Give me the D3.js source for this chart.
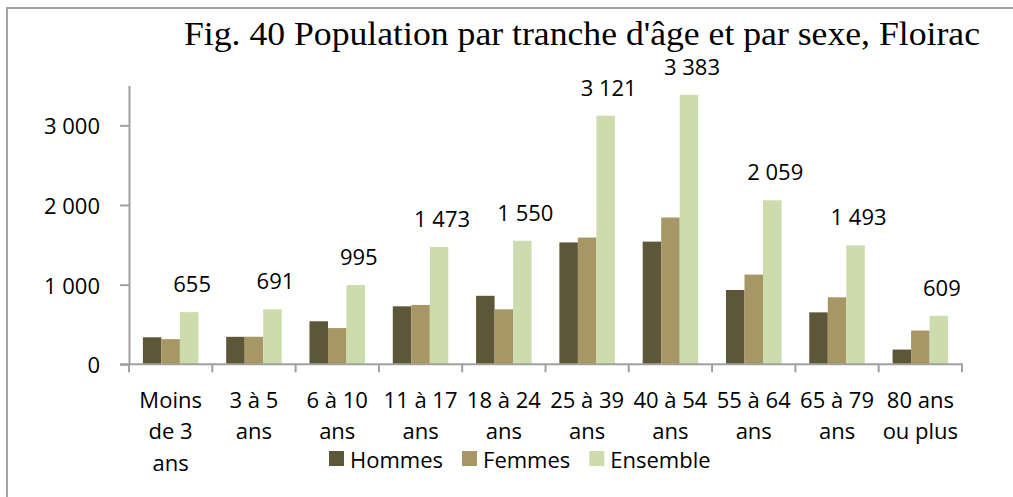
<!DOCTYPE html>
<html lang="fr">
<head>
    <meta charset="UTF-8">
    <title>Fig. 40 Population par tranche d'âge et par sexe, Floirac</title>
    <script src="https://cdn.jsdelivr.net/npm/d3@7"></script>
    <style>
        body { margin: 0; background: #fff; }
        text { font-family: "Open Sans", sans-serif; fill: #000; }
        text.titre { font-family: "Liberation Serif", "DejaVu Serif", serif; }
    </style>
</head>
<body>
<svg id="chart"></svg>

<script>
    // données
    const categories = ["Moins\nde 3\nans", "3 à 5\nans", "6 à 10\nans", "11 à 17\nans", "18 à 24\nans",
        "25 à 39\nans", "40 à 54\nans", "55 à 64\nans", "65 à 79\nans", "80 ans\nou plus"];
    const series = ["Hommes", "Femmes", "Ensemble"];
    const hommes = [339, 345, 540, 728, 860, 1530, 1540, 933, 652, 185];
    const femmes = [316, 346, 455, 745, 690, 1591, 1843, 1126, 841, 424];
    const ensemble = [655, 691, 995, 1473, 1550, 3121, 3383, 2059, 1493, 609];
    const yTicks = [0, 1000, 2000, 3000];
    const colors = ["#5e5638", "#a69764", "#cddcac"];

    const W = 1013, H = 497;
    const svg = d3.select("#chart").attr("width", W).attr("height", H);

    // cadre
    svg.append("rect")
        .attr("x", 7).attr("y", 8)
        .attr("width", W + 10).attr("height", H + 10)
        .attr("fill", "none").attr("stroke", "#a3a3a3").attr("stroke-width", 2);

    const fr = d3.formatLocale({decimal: ",", thousands: " ", grouping: [3], currency: ["", " €"]});
    const fmt = fr.format(",d");

    const x = d3.scaleBand().domain(categories).range([129, 962]).padding(0);
    const bw = x.bandwidth();
    const xs = d3.scaleBand().domain(series).range([bw / 6, bw * 5 / 6]).padding(0);
    const y = d3.scaleLinear().domain([0, 3500]).range([364.3, 85.5]);

    const rows = categories.map((c, i) => ({c: c, v: [hommes[i], femmes[i], ensemble[i]]}));

    // barres
    const grp = svg.append("g").selectAll("g").data(rows).enter().append("g")
        .attr("transform", d => "translate(" + x(d.c) + ",0)");
    grp.selectAll("rect")
        .data(d => d.v.map((v, j) => ({s: series[j], v: v, j: j})))
        .enter().append("rect")
        .attr("x", d => xs(d.s))
        .attr("width", xs.bandwidth())
        .attr("y", d => y(d.v))
        .attr("height", d => y(0) - y(d.v))
        .attr("fill", d => colors[d.j]);

    // étiquettes Ensemble
    svg.append("g").selectAll("text").data(rows).enter().append("text")
        .attr("x", d => x(d.c) + xs("Ensemble") + xs.bandwidth() / 2 + 3)
        .attr("y", d => y(d.v[2]) - 20)
        .attr("text-anchor", "middle")
        .attr("font-size", 22)
        .text(d => fmt(d.v[2]));

    // axe y
    const gy = svg.append("g").attr("transform", "translate(129,0)")
        .call(d3.axisLeft(y).tickValues(yTicks).tickFormat(fmt).tickSize(9).tickSizeOuter(0).tickPadding(20));
    gy.select(".domain").attr("stroke", "#a0a0a0").attr("stroke-width", 2);
    gy.selectAll(".tick line").attr("stroke", "#a0a0a0").attr("stroke-width", 2);
    gy.selectAll(".tick text").attr("font-size", 22).attr("font-family", "Open Sans")
        .attr("fill", "#000").attr("dy", "0.38em");

    // axe x
    const gx = svg.append("g");
    gx.append("line").attr("x1", 120).attr("x2", x.range()[1] + 1)
        .attr("y1", y(0)).attr("y2", y(0))
        .attr("stroke", "#a0a0a0").attr("stroke-width", 2);
    gx.selectAll(".xt").data(categories.map(c => x(c)).concat([x.range()[1]])).enter().append("line")
        .attr("x1", d => d).attr("x2", d => d)
        .attr("y1", y(0)).attr("y2", y(0) + 8)
        .attr("stroke", "#a0a0a0").attr("stroke-width", 2);
    const lab = gx.selectAll(".xl").data(categories).enter().append("text")
        .attr("text-anchor", "middle")
        .attr("font-size", 22);
    lab.selectAll("tspan").data(d => d.split("\n").map(t => ({t: t, c: d}))).enter().append("tspan")
        .attr("x", d => x(d.c) + bw / 2)
        .attr("y", (d, i) => 407.5 + i * 31.8)
        .text(d => d.t);

    // légende
    const leg = svg.append("g").attr("transform", "translate(329,451)");
    let lx = 0;
    series.forEach((s, i) => {
        leg.append("rect").attr("x", lx).attr("y", 0).attr("width", 15).attr("height", 15).attr("fill", colors[i]);
        const t = leg.append("text").attr("x", lx + 21).attr("y", 17).attr("font-size", 22).text(s);
        lx += 21 + t.node().getComputedTextLength() + 19;
    });

    // titre
    svg.append("text")
        .attr("class", "titre")
        .attr("x", 184).attr("y", 45)
        .attr("font-size", 33)
        .attr("textLength", 796)
        .attr("lengthAdjust", "spacingAndGlyphs")
        .text("Fig. 40 Population par tranche d'âge et par sexe, Floirac");
</script>
</body>
</html>
